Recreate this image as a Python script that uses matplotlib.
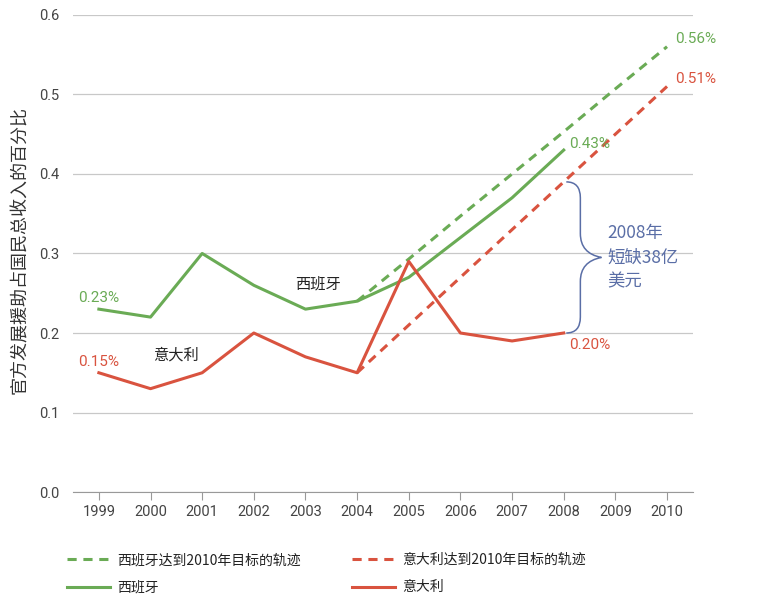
import matplotlib
matplotlib.use('Agg')
import matplotlib.pyplot as plt
from matplotlib.path import Path
from matplotlib.patches import PathPatch

years = [1999, 2000, 2001, 2002, 2003, 2004, 2005, 2006, 2007, 2008]
spain = [0.23, 0.22, 0.30, 0.26, 0.23, 0.24, 0.27, 0.32, 0.37, 0.43]
italy = [0.15, 0.13, 0.15, 0.20, 0.17, 0.15, 0.29, 0.20, 0.19, 0.20]
target_years = [2004, 2005, 2006, 2007, 2008, 2009, 2010]
spain_target = [0.24, 0.293, 0.347, 0.40, 0.453, 0.507, 0.56]
italy_target = [0.15, 0.21, 0.27, 0.33, 0.39, 0.45, 0.51]
xticks = list(range(1999, 2011))
yticks = [0.0, 0.1, 0.2, 0.3, 0.4, 0.5, 0.6]

GREEN = '#6aab55'
RED = '#d9533f'
BLUE = '#5a6ea6'
CJK = ['Noto Sans CJK SC', 'DejaVu Sans']
NUM = ['Roboto', 'DejaVu Sans']

fig = plt.figure(figsize=(7.82, 5.95), dpi=100)
ax = fig.add_axes([0.0934, 0.173, 0.7926, 0.802])

l1, = ax.plot(target_years, spain_target, color=GREEN, lw=2.2, ls=(0, (3, 2.2)))
l2, = ax.plot(target_years, italy_target, color=RED, lw=2.2, ls=(0, (3, 2.2)))
l3, = ax.plot(years, spain, color=GREEN, lw=2.2)
l4, = ax.plot(years, italy, color=RED, lw=2.2)

ax.set_xlim(1998.5, 2010.5)
ax.set_ylim(0, 0.6)
ax.set_xticks(xticks)
ax.set_yticks(yticks)
ax.set_yticklabels(['%.1f' % v for v in yticks], family=NUM, fontsize=10.5, color='#444444')
ax.set_xticklabels([str(v) for v in xticks], family=NUM, fontsize=10.5, color='#444444')
ax.grid(axis='y', color='#c8c8c8', lw=0.9)
ax.set_axisbelow(True)
for s in ['left', 'right', 'top']:
    ax.spines[s].set_visible(False)
ax.spines['bottom'].set_color('#999999')
ax.tick_params(axis='y', length=0, pad=10)
ax.tick_params(axis='x', length=6, color='#999999', pad=3)

fig.text(20 / 782, 1 - 250 / 595, '官方发展援助占国民总收入的百分比', family=CJK, fontsize=13,
         color='#333333', rotation=90, ha='center', va='center')

# value labels
ax.text(1998.6, 0.235, '0.23%', color=GREEN, family=NUM, fontsize=11, va='bottom')
ax.text(1998.6, 0.155, '0.15%', color=RED, family=NUM, fontsize=11, va='bottom')
ax.text(2010.15, 0.57, '0.56%', color=GREEN, family=NUM, fontsize=11, va='center')
ax.text(2010.15, 0.52, '0.51%', color=RED, family=NUM, fontsize=11, va='center')
ax.text(2008.1, 0.438, '0.43%', color=GREEN, family=NUM, fontsize=11, va='center')
ax.text(2008.1, 0.185, '0.20%', color=RED, family=NUM, fontsize=11, va='center')
ax.text(2002.8, 0.262, '西班牙', family=CJK, fontsize=11, color='#222222', va='center')
ax.text(2000.05, 0.172, '意大利', family=CJK, fontsize=11, color='#222222', va='center')

# brace showing the 2008 shortfall
x0 = 2008.05
top, bot = italy_target[4], italy[-1]
mid = (top + bot) / 2
w = 0.68
xm = x0 + w * 0.4
verts = [(x0, top), (xm, top), (xm, top - 0.02),
         (xm, mid + 0.03), (xm, mid + 0.005), (x0 + w, mid),
         (xm, mid - 0.005), (xm, mid - 0.03),
         (xm, bot + 0.02), (xm, bot), (x0, bot)]
codes = [Path.MOVETO, Path.CURVE3, Path.CURVE3,
         Path.LINETO, Path.CURVE3, Path.CURVE3,
         Path.CURVE3, Path.CURVE3,
         Path.LINETO, Path.CURVE3, Path.CURVE3]
ax.add_patch(PathPatch(Path(verts, codes), fill=False, ec=BLUE, lw=1.1, clip_on=False))
ax.text(2008.85, mid, '2008年\n短缺38亿\n美元', color=BLUE, family=CJK, fontsize=12.5,
        style='italic', va='center', ha='left', linespacing=1.45)

leg = fig.legend([l1, l3, l2, l4],
                 ['西班牙达到2010年目标的轨迹', '西班牙', '意大利达到2010年目标的轨迹', '意大利'],
                 loc='lower left', bbox_to_anchor=(0.07, -0.02), ncol=2, frameon=False,
                 prop={'family': CJK, 'size': 10}, handlelength=3.1, columnspacing=3.7,
                 labelspacing=0.95, handletextpad=0.5)
for t in leg.get_texts():
    t.set_color('#222222')

fig.savefig('out.png', dpi=100)
